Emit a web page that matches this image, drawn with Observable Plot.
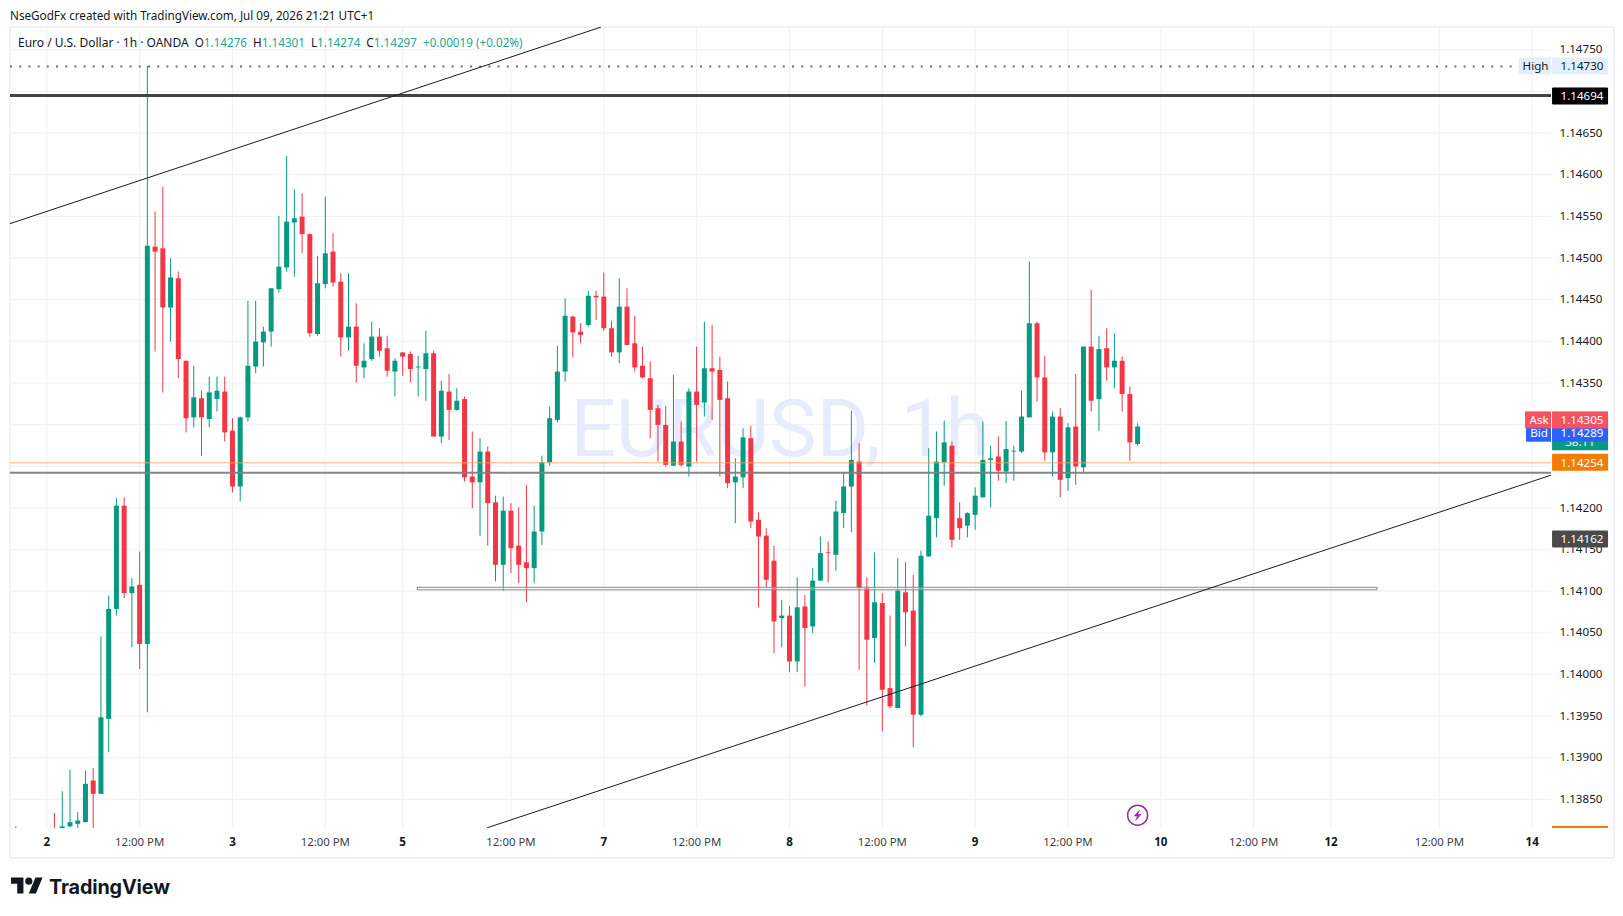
<!DOCTYPE html>
<html>
<head>
<meta charset="utf-8">
<script src="https://cdn.jsdelivr.net/npm/d3@7"></script>
<script src="https://cdn.jsdelivr.net/npm/@observablehq/plot@0.6"></script>
<style>
  html,body{margin:0;padding:0;background:#fff;width:1623px;height:916px;overflow:hidden;font-family:"Noto Sans",sans-serif;color:#131722}
  #frame{position:absolute;left:9px;top:25.5px;width:1602px;height:829px;border:2px solid #f1f2f4;box-sizing:content-box}
  #head{position:absolute;left:10px;top:6.5px;font-size:11.7px;line-height:16px;white-space:nowrap}
  #legend{position:absolute;left:18px;top:33.5px;font-size:11.7px;line-height:16px;white-space:nowrap}
  #legend .t{font-size:12px}
  #legend b{font-weight:400;color:#22a68f}
  #legend i{font-style:normal;margin-left:6px}
  #chart{position:absolute;left:0;top:0}
  #logo{position:absolute;left:11px;top:874px;display:flex;align-items:center}
  #logo span{font:700 19.8px Inter,"Noto Sans",sans-serif;margin-left:6px;color:#131722;letter-spacing:-.15px}
</style>
</head>
<body>
<div id="frame"></div>
<div id="chart"></div>
<div id="head">NseGodFx created with TradingView.com, Jul 09, 2026 21:21 UTC+1</div>
<div id="legend"><span class="t">Euro / U.S. Dollar · 1h · OANDA</span><i>O<b>1.14276</b></i><i>H<b>1.14301</b></i><i>L<b>1.14274</b></i><i>C<b>1.14297</b></i><i><b>+0.00019 (+0.02%)</b></i></div>
<div id="logo"><svg width="32" height="25" viewBox="0 0 36 28"><path fill="#131722" d="M14 22H7V11H0V4h14v18zM28 22h-8l7.5-18h8L28 22z"/><circle fill="#131722" cx="20" cy="8" r="4"/></svg><span>TradingView</span></div>
<script>
// Hourly bars, EUR/USD. Prices are in 1e-5 units (114276 = 1.14276). Bar index 0 = the "2" date line.
const barIndex = [-4, ...d3.range(1, 142)];
const opens = [113805,113805,113810,113817,113820,113822,113872,113856,113946,114078,114202,114097,114107,114036,
114513,114511,114440,114475,114376,114308,114331,114306,114330,114339,114292,114225,114308,114369,114398,114411,114462,114488,114542,114549,114528,114408,114468,114507,114471,114404,114417,114368,114378,114405,114391,114363,114386,114384,114368,114366,
114385,114285,114339,114317,114330,114237,114230,114267,114206,114131,114196,114154,114134,114127,114171,114254,114305,114363,114429,114411,114419,114454,114453,114415,114386,114441,114397,114370,114355,114319,114299,114250,114279,114249,114339,114326,114367,114365,114331,114230,114236,114283,114185,114166,114136,114067,114070,114015,114081,114057,
114112,114146,114143,114193,114225,114255,114103,114043,114085,113983,113959,114098,114076,113951,114141,114187,114254,114274,114187,114178,114191,114212,114257,114261,114243,114267,114267,114308,114421,114356,114266,114309,114235,114297,114248,114393,114330,114391,114368,114376,114336,114276];
const highs = [113817,113833,113859,113885,113834,113884,113887,114045,114094,114211,114212,114115,114147,114730,
114555,114585,114499,114483,114376,114370,114340,114357,114357,114357,114307,114309,114448,114448,114417,114463,114550,114622,114582,114577,114529,114502,114573,114529,114481,114481,114445,114397,114423,114415,114406,114379,114386,114387,114382,114412,
114388,114352,114360,114343,114333,114291,114283,114273,114214,114213,114205,114200,114227,114202,114262,114321,114394,114451,114430,114421,114460,114460,114482,114424,114475,114463,114430,114393,114375,114323,114322,114359,114303,114343,114393,114423,114419,114381,114351,114259,114295,114298,114194,114175,114154,114089,114082,114116,114095,114127,
114165,114159,114208,114242,114316,114277,114116,114146,114097,114070,114139,114134,114119,114148,114271,114291,114304,114279,114206,114194,114224,114303,114274,114285,114304,114274,114340,114495,114423,114382,114315,114319,114301,114360,114393,114461,114406,114415,114409,114381,114345,114301];
const lows = [113790,113790,113805,113816,113810,113822,113810,113856,113906,114070,114091,114032,114006,113954,
114387,114338,114399,114355,114290,114296,114262,114296,114315,114279,114218,114207,114303,114361,114369,114393,114458,114483,114477,114505,114405,114406,114463,114465,114381,114388,114350,114355,114376,114381,114357,114333,114358,114350,114333,114328,
114285,114277,114281,114316,114231,114199,114166,114154,114111,114100,114121,114109,114086,114109,114155,114250,114302,114351,114380,114397,114417,114425,114412,114381,114373,114395,114363,114355,114283,114255,114249,114250,114249,114237,114255,114309,114305,114237,114223,114181,114223,114175,114080,114104,114025,114032,114002,114002,113985,114049,
114112,114110,114124,114175,114170,114005,113962,114013,113931,113959,113959,114033,113912,113949,114141,114164,114226,114152,114161,114164,114173,114212,114200,114232,114229,114232,114265,114308,114327,114256,114237,114212,114220,114227,114241,114315,114292,114352,114343,114315,114256,114274];
const closes = [113795,113795,113817,113822,113824,113868,113856,113948,114078,114202,114097,114105,114036,114514,
114507,114440,114476,114378,114307,114332,114308,114338,114340,114290,114225,114308,114370,114399,114411,114463,114489,114543,114547,114528,114409,114469,114505,114470,114404,114417,114370,114376,114405,114388,114364,114376,114381,114366,114369,114385,
114285,114340,114317,114328,114236,114230,114267,114205,114131,114196,114151,114131,114127,114171,114254,114307,114363,114430,114410,114407,114454,114452,114415,114386,114441,114395,114368,114356,114317,114299,114251,114279,114251,114339,114323,114367,114363,114329,114229,114237,114284,114183,114165,114113,114063,114070,114015,114080,114055,114112,
114145,114145,114195,114225,114257,114103,114041,114086,113981,113961,114100,114074,113951,114142,114190,114255,114278,114161,114175,114193,114214,114257,114259,114244,114270,114268,114309,114421,114356,114266,114309,114233,114296,114249,114393,114328,114390,114368,114376,114336,114278,114297];

// Price levels
const priceTicks = [114750,114700,114650,114600,114550,114500,114450,114400,114350,114300,114250,114200,114150,114100,114050,114000,113950,113900,113850];
const hiddenPriceTicks = [114700,114300,114250];
const resistance = 114694, highLevel = 114730, supportLevel = 114242, lastLevel = 114254;

// Time axis
const dateTicks = [0,24,46,72,96,120,144,166,192];
const dateLabels = ["2","3","5","7","8","9","10","12","14"];
const hourTicks = [12,36,60,84,108,132,156,180];
const hourLabel = "12:00 PM";

// Drawings (bar index, price)
const upperTrend = [{i:-4.82,p:114541},{i:71.57,p:114777}];
const lowerTrend = [{i:56.97,p:113816},{i:194.37,p:114239}];
const box = {i1:47.96,i2:172,p1:114101,p2:114104};

// Price-scale labels
const chips = [
  {p:114730,t:"1.14730",f:"#e3effd",c:"#131722"},
  {p:114694,t:"1.14694",f:"#000000",c:"#ffffff"},
  {p:114254,t:"1.14254",f:"#f57c00",c:"#ffffff"},
  {p:114162,t:"1.14162",f:"#4a4a4a",c:"#ffffff"}
];
const bidChip = {p:114289,t:"1.14289",f:"#2962ff",c:"#ffffff",name:"Bid"};
const askChip = {p:114305,t:"1.14305",f:"#f7525f",c:"#ffffff",name:"Ask"};
const highName = {p:114730,f:"#e3effd",c:"#131722",name:"High"};
const countdown = {p:114279,t:"38:11"};

const bars = barIndex.map((i,k)=>({i,o:opens[k],h:highs[k],l:lows[k],c:closes[k]}));
const UP="#089981", DOWN="#f23645", colour=d=>d.c>=d.o?UP:DOWN;
const FONT='"Noto Sans",sans-serif';
const shift=.13;                        // sub-pixel alignment of the bar grid
const xOf=X=>(X-47.3)/7.736+shift;      // pane pixels → bar index, for decoration placement only
const halfChip=10.2;                    // chip half-height in price units
const chipX1=xOf(1552), chipX2=xOf(1608), chipTextX=xOf(1560);
const nameX2=xOf(1551);
const boltSymbol={draw(ctx){ctx.moveTo(2.5,-6);ctx.lineTo(-4,1);ctx.lineTo(-.6,1);ctx.lineTo(-2.5,6);ctx.lineTo(4,-1);ctx.lineTo(.6,-1);ctx.closePath();}};

const chart = Plot.plot({
  width:1623,height:916,
  marginLeft:10,marginRight:72,marginTop:27,marginBottom:88,
  style:{background:"transparent",fontFamily:FONT,fontSize:"11.6px",color:"#131722"},
  x:{type:"linear",domain:[-4.82+shift,194.37+shift],axis:null},
  y:{type:"linear",domain:[113815.0,114776.7],axis:null},
  marks:[
    Plot.ruleY(priceTicks,{stroke:"#f1f2f4",strokeWidth:1.2}),
    Plot.ruleX([...dateTicks,...hourTicks],{stroke:"#f1f2f4",strokeWidth:1.2}),
    Plot.text(["EURUSD, 1h"],{frameAnchor:"top-left",dx:560,dy:428,textAnchor:"start",lineAnchor:"bottom",fontSize:80,fontFamily:'Roboto,sans-serif',fill:"#e6ecfd"}),

    // candles
    Plot.ruleX(bars,{x:"i",y1:"l",y2:"h",stroke:colour,strokeWidth:1,clip:true}),
    Plot.ruleX(bars,{x:"i",y1:"o",y2:"c",stroke:colour,strokeWidth:5,clip:true}),

    // levels and drawings
    Plot.ruleY([lastLevel],{stroke:"#f5a25d",strokeWidth:1,strokeOpacity:.85}),
    Plot.ruleY([supportLevel],{stroke:"#808080",strokeWidth:2,strokeOpacity:.95}),
    Plot.ruleY([resistance],{stroke:"#434343",strokeWidth:3,dy:-1}),
    Plot.ruleY([highLevel],{x1:-4.82+shift,x2:xOf(1519),stroke:"#6a6d78",strokeWidth:2,strokeDasharray:"2 7.2"}),
    Plot.rect([box],{x1:"i1",x2:"i2",y1:"p1",y2:"p2",stroke:"#8a8a8a",strokeWidth:1,fill:"#ffffff",fillOpacity:.3}),
    Plot.line(upperTrend,{x:"i",y:"p",stroke:"#1c1c1c",strokeWidth:1,clip:true}),
    Plot.line(lowerTrend,{x:"i",y:"p",stroke:"#1c1c1c",strokeWidth:1,clip:true}),

    // event marker
    Plot.dot([141],{x:d=>d,y:()=>113831,r:10,stroke:"#9c27b0",strokeWidth:1.5,fill:"#fff"}),
    Plot.dot([141],{x:d=>d,y:()=>113831,symbol:()=>boltSymbol,fill:"#9c27b0",stroke:"none"}),

    // axes
    Plot.axisY(priceTicks.filter(t=>!hiddenPriceTicks.includes(t)),{anchor:"right",tickSize:0,tickPadding:8,label:null,tickFormat:d=>(d/1e5).toFixed(5),fontSize:11.6,fill:"#131722"}),
    Plot.axisX(dateTicks,{anchor:"bottom",tickSize:0,tickPadding:9,label:null,tickFormat:d=>dateLabels[dateTicks.indexOf(d)],fontWeight:700,fontSize:11.6,fill:"#131722"}),
    Plot.axisX(hourTicks,{anchor:"bottom",tickSize:0,tickPadding:9,label:null,tickFormat:()=>hourLabel,fontSize:11.4,fill:"#3d3f47"}),

    // price chips
    Plot.rect(chips,{x1:()=>chipX1,x2:()=>chipX2,y1:d=>d.p-halfChip,y2:d=>d.p+halfChip,fill:"f",rx:1,dy:d=>0}),
    Plot.text(chips,{x:()=>chipTextX,y:"p",text:"t",fill:"c",textAnchor:"start",fontSize:11.6}),
    Plot.rect([highName],{x1:()=>xOf(1519),x2:()=>nameX2,y1:d=>d.p-halfChip,y2:d=>d.p+halfChip,fill:"f",rx:1}),
    Plot.text([highName],{x:()=>xOf(1535),y:"p",text:"name",fill:"c",fontSize:11.6}),
    Plot.rect([{p1:113815.0,p2:113817.5}],{x1:()=>chipX1,x2:()=>chipX2,y1:"p1",y2:"p2",fill:"#f57c00"}),
    Plot.rect([countdown],{x1:()=>chipX1,x2:()=>chipX2,y1:()=>114268.5,y2:()=>114306,fill:"#089981"}),
    Plot.text([countdown],{x:()=>chipTextX+.6,y:"p",text:"t",fill:"#fff",textAnchor:"start",fontSize:11.6}),
    Plot.rect([bidChip],{x1:()=>chipX1,x2:()=>chipX2,y1:d=>d.p-halfChip,y2:d=>d.p+halfChip,fill:"f"}),
    Plot.rect([bidChip],{x1:()=>xOf(1526),x2:()=>nameX2,y1:d=>d.p-halfChip,y2:d=>d.p+halfChip,fill:"f"}),
    Plot.text([bidChip],{x:()=>chipTextX,y:"p",text:"t",fill:"c",textAnchor:"start",fontSize:11.6}),
    Plot.text([bidChip],{x:()=>xOf(1538.5),y:"p",text:"name",fill:"c",fontSize:11.6}),
    Plot.rect([askChip],{x1:()=>chipX1,x2:()=>chipX2,y1:d=>d.p-halfChip,y2:d=>d.p+halfChip,fill:"f"}),
    Plot.rect([askChip],{x1:()=>xOf(1525),x2:()=>nameX2,y1:d=>d.p-halfChip,y2:d=>d.p+halfChip,fill:"f"}),
    Plot.text([askChip],{x:()=>chipTextX,y:"p",text:"t",fill:"c",textAnchor:"start",fontSize:11.6}),
    Plot.text([askChip],{x:()=>xOf(1538.5),y:"p",text:"name",fill:"c",fontSize:11.6})
  ]
});
document.getElementById("chart").appendChild(chart);
</script>
</body>
</html>
